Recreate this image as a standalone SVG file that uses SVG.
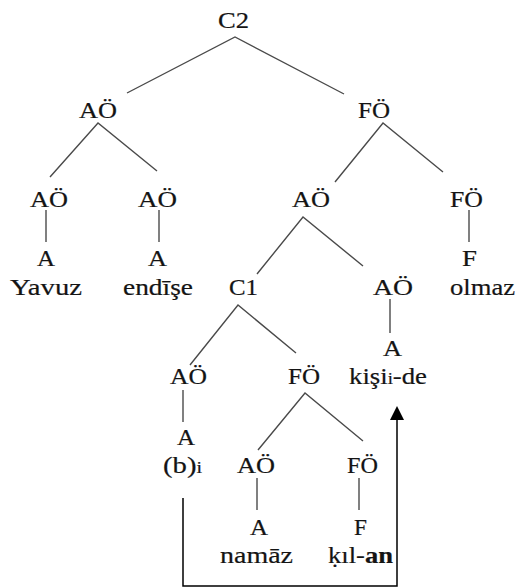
<svg xmlns="http://www.w3.org/2000/svg" width="518" height="588" viewBox="0 0 518 588">
  <style>
    .lbl { font-family: "Liberation Serif", "Times New Roman", serif; font-size: 23px; fill: #141414; stroke: #141414; stroke-width: 0.2; }
    .sub { font-size: 16px; }
    .b { font-weight: bold; }
    .edge { stroke: #4a4a4a; stroke-width: 1.4; fill: none; }
    .link { stroke: #000; stroke-width: 1.5; fill: none; }
  </style>
  <rect width="518" height="588" fill="#fff"/>

  <!-- tree branches and the movement link -->
  <g id="connectors">
    <path class="edge" d="M127,93 L235,37 L344,94"/>
    <path class="edge" d="M50,177 L98,123 L157,171"/>
    <path class="edge" d="M335,182 L383,123 L443,172"/>
    <path class="edge" d="M46,210 L46,242"/>
    <path class="edge" d="M159,210 L159,242"/>
    <path class="edge" d="M469,210 L469,242"/>
    <path class="edge" d="M257,274 L303,217 L363,266"/>
    <path class="edge" d="M190,365 L238,305 L296,353"/>
    <path class="edge" d="M390,299 L390,333"/>
    <path class="edge" d="M183,390 L183,422"/>
    <path class="edge" d="M258,450 L305,393 L363,441"/>
    <path class="edge" d="M257,478 L257,510"/>
    <path class="edge" d="M359,478 L359,510"/>
    <path class="link" d="M183,498 L183,586 L397,586 L397,420"/>
    <path d="M390,420 L397,406 L404,420 Z" fill="#000"/>
  </g>

  <g id="c2"><text class="lbl" x="218" y="28" textLength="31" lengthAdjust="spacingAndGlyphs">C2</text></g>
  <g id="ao-top"><text class="lbl" x="79" y="118" textLength="38" lengthAdjust="spacingAndGlyphs">AÖ</text></g>
  <g id="fo-top"><text class="lbl" x="358" y="118" textLength="32" lengthAdjust="spacingAndGlyphs">FÖ</text></g>

  <g id="ao-yavuz">
    <text class="lbl" x="30" y="207" textLength="38" lengthAdjust="spacingAndGlyphs">AÖ</text>
    <text class="lbl" x="37" y="266" textLength="18" lengthAdjust="spacingAndGlyphs">A</text>
    <text class="lbl" x="10" y="295" textLength="72" lengthAdjust="spacingAndGlyphs">Yavuz</text>
  </g>
  <g id="ao-endise">
    <text class="lbl" x="138" y="207" textLength="39" lengthAdjust="spacingAndGlyphs">AÖ</text>
    <text class="lbl" x="148" y="266" textLength="19" lengthAdjust="spacingAndGlyphs">A</text>
    <text class="lbl" x="123" y="295" textLength="70" lengthAdjust="spacingAndGlyphs">endīşe</text>
  </g>
  <g id="ao-mid"><text class="lbl" x="292" y="207" textLength="38" lengthAdjust="spacingAndGlyphs">AÖ</text></g>
  <g id="fo-olmaz">
    <text class="lbl" x="450" y="207" textLength="33" lengthAdjust="spacingAndGlyphs">FÖ</text>
    <text class="lbl" x="462" y="266" textLength="15" lengthAdjust="spacingAndGlyphs">F</text>
    <text class="lbl" x="450" y="295" textLength="65" lengthAdjust="spacingAndGlyphs">olmaz</text>
  </g>

  <g id="c1"><text class="lbl" x="229" y="295" textLength="29" lengthAdjust="spacingAndGlyphs">C1</text></g>
  <g id="ao-kisi">
    <text class="lbl" x="373" y="295" textLength="40" lengthAdjust="spacingAndGlyphs">AÖ</text>
    <text class="lbl" x="383" y="356" textLength="19" lengthAdjust="spacingAndGlyphs">A</text>
    <text class="lbl" x="349" y="384" textLength="78" lengthAdjust="spacingAndGlyphs">kişi<tspan class="sub">i</tspan>-de</text>
  </g>

  <g id="ao-b">
    <text class="lbl" x="170" y="384" textLength="37" lengthAdjust="spacingAndGlyphs">AÖ</text>
    <text class="lbl" x="177" y="445" textLength="18" lengthAdjust="spacingAndGlyphs">A</text>
    <text class="lbl" x="163" y="473" textLength="39" lengthAdjust="spacingAndGlyphs">(b)<tspan class="sub">i</tspan></text>
  </g>
  <g id="fo-low"><text class="lbl" x="288" y="384" textLength="32" lengthAdjust="spacingAndGlyphs">FÖ</text></g>

  <g id="ao-namaz">
    <text class="lbl" x="237" y="473" textLength="38" lengthAdjust="spacingAndGlyphs">AÖ</text>
    <text class="lbl" x="250" y="535" textLength="18" lengthAdjust="spacingAndGlyphs">A</text>
    <text class="lbl" x="220" y="563" textLength="73" lengthAdjust="spacingAndGlyphs">namāz</text>
  </g>
  <g id="fo-kil">
    <text class="lbl" x="347" y="473" textLength="31" lengthAdjust="spacingAndGlyphs">FÖ</text>
    <text class="lbl" x="354" y="535" textLength="13" lengthAdjust="spacingAndGlyphs">F</text>
    <text class="lbl" x="328" y="563" textLength="65" lengthAdjust="spacingAndGlyphs">ḳıl-<tspan class="b">an</tspan></text>
  </g>
</svg>
